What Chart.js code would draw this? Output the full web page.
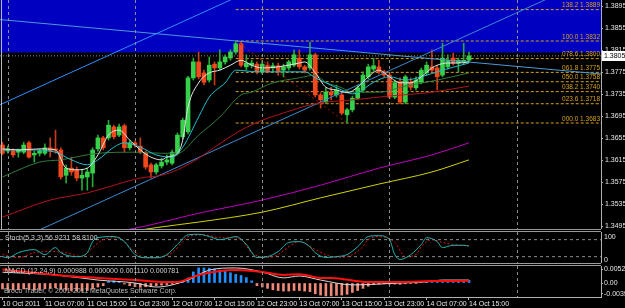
<!DOCTYPE html>
<html>
<head>
<meta charset="utf-8">
<script src="https://cdn.jsdelivr.net/npm/chart.js@4.4.1/dist/chart.umd.min.js"></script>
<style>
  html, body { margin: 0; padding: 0; background: #000; }
  #wrap { position: relative; width: 625px; height: 308px; background: #000; overflow: hidden; }
  #wrap canvas { position: absolute; left: 0; }
  .sep { position: absolute; left: 0; width: 601px; height: 1px; background: #9a9a9a; }
  .note { position: absolute; font: 7px "Liberation Sans", Arial, sans-serif; color: #d0d0d0; white-space: nowrap; }
</style>
</head>
<body>
<div id="wrap">
  <canvas id="priceChart" width="625" height="229" style="top:0"></canvas>
  <div style="position:absolute;left:1px;top:0;width:1px;height:229px;background:#b8b8b8"></div>
  <div class="sep" style="top:229px"></div>
  <div class="sep" style="top:231px"></div>
  <canvas id="stochChart" width="625" height="31" style="top:232px"></canvas>
  <div class="sep" style="top:263px"></div>
  <div class="sep" style="top:265px"></div>
  <canvas id="macdChart" width="625" height="42" style="top:266px"></canvas>
  <div class="note" style="left:5px;top:234px">Stoch(5,3,3) 56.9231 58.8100</div>
  <div class="note" style="left:5px;top:267px">MACD (12,24,9) 0.000988 0.000000 0.001110 0.000781</div>
  <div class="note" style="left:4px;top:287px;color:#bdbdbd">Broco Trader, © 2001-2011 MetaQuotes Software Corp.</div>
</div>
<script>
Chart.defaults.font.family = '"Liberation Sans", Arial, sans-serif';
Chart.defaults.font.size = 7;
Chart.defaults.color = '#e6e6e6';

// H1 bars, bar 0 = 10 Oct 23:00
var timeIdx = [0, 8, 16, 24, 32, 40, 48, 56, 64, 72, 80, 88];
var timeLabels = ['10 Oct 2011', '11 Oct 07:00', '11 Oct 15:00', '11 Oct 23:00', '12 Oct 07:00', '12 Oct 15:00',
                  '12 Oct 23:00', '13 Oct 07:00', '13 Oct 15:00', '13 Oct 23:00', '14 Oct 07:00', '14 Oct 15:00'];
var dayIdx = [1, 25, 49, 73, 97];
var viewFrom = -0.47, viewTo = 112.9;

var open = [1.3643,1.3632,1.3632,1.3630,1.3630,1.3647,1.3625,1.3628,1.3628,1.3638,
            1.3636,1.3634,1.3588,1.3601,1.3598,1.3583,1.3585,1.3592,1.3636,1.3656,
            1.3656,1.3676,1.3661,1.3678,1.3638,1.3647,1.3641,1.3628,1.3607,1.3594,
            1.3605,1.3612,1.3610,1.3628,1.3658,1.3667,1.3765,1.3794,1.3774,1.3761,
            1.3790,1.3783,1.3794,1.3801,1.3812,1.3827,1.3785,1.3788,1.3790,1.3776,
            1.3788,1.3783,1.3787,1.3779,1.3783,1.3788,1.3801,1.3785,1.3783,1.3807,
            1.3734,1.3721,1.3739,1.3734,1.3734,1.3698,1.3707,1.3728,1.3743,1.3767,
            1.3781,1.3785,1.3776,1.3770,1.3730,1.3757,1.3721,1.3757,1.3747,1.3757,
            1.3774,1.3785,1.3783,1.3770,1.3785,1.3801,1.3792,1.3794,1.3797];
var high = [1.3648,1.3641,1.3636,1.3636,1.3648,1.3650,1.3632,1.3636,1.3645,1.3656,
            1.3670,1.3638,1.3607,1.3621,1.3603,1.3598,1.3601,1.3638,1.3661,1.3659,
            1.3688,1.3679,1.3681,1.3681,1.3652,1.3650,1.3656,1.3632,1.3610,1.3610,
            1.3619,1.3625,1.3634,1.3665,1.3692,1.3768,1.3801,1.3812,1.3779,1.3803,
            1.3794,1.3816,1.3807,1.3816,1.3832,1.3831,1.3807,1.3797,1.3794,1.3797,
            1.3794,1.3792,1.3792,1.3790,1.3797,1.3816,1.3816,1.3788,1.3830,1.3810,
            1.3738,1.3747,1.3748,1.3752,1.3738,1.3710,1.3732,1.3752,1.3776,1.3790,
            1.3801,1.3797,1.3779,1.3774,1.3761,1.3765,1.3770,1.3765,1.3767,1.3783,
            1.3794,1.3816,1.3787,1.3828,1.3807,1.3810,1.3801,1.3828,1.3812];
var low =  [1.3625,1.3628,1.3621,1.3621,1.3627,1.3619,1.3612,1.3623,1.3625,1.3621,
            1.3628,1.3581,1.3574,1.3588,1.3578,1.3561,1.3561,1.3567,1.3632,1.3634,
            1.3652,1.3654,1.3658,1.3630,1.3634,1.3639,1.3627,1.3599,1.3583,1.3590,
            1.3601,1.3607,1.3607,1.3625,1.3654,1.3663,1.3761,1.3763,1.3752,1.3757,
            1.3752,1.3779,1.3790,1.3797,1.3808,1.3785,1.3779,1.3783,1.3772,1.3772,
            1.3774,1.3776,1.3770,1.3767,1.3779,1.3785,1.3781,1.3774,1.3779,1.3730,
            1.3710,1.3718,1.3725,1.3730,1.3698,1.3683,1.3703,1.3725,1.3739,1.3763,
            1.3777,1.3772,1.3767,1.3727,1.3727,1.3718,1.3718,1.3743,1.3743,1.3754,
            1.3770,1.3776,1.3743,1.3767,1.3781,1.3788,1.3776,1.3790,1.3794];
var close = [1.3628,1.3636,1.3625,1.3634,1.3643,1.3621,1.3628,1.3632,1.3638,1.3632,
            1.3634,1.3585,1.3601,1.3594,1.3583,1.3588,1.3594,1.3634,1.3656,1.3638,
            1.3679,1.3658,1.3676,1.3638,1.3647,1.3643,1.3630,1.3603,1.3594,1.3607,
            1.3612,1.3616,1.3630,1.3661,1.3688,1.3765,1.3794,1.3767,1.3757,1.3788,
            1.3783,1.3794,1.3803,1.3812,1.3827,1.3788,1.3792,1.3792,1.3776,1.3790,
            1.3776,1.3787,1.3776,1.3785,1.3794,1.3807,1.3785,1.3779,1.3807,1.3734,
            1.3725,1.3739,1.3734,1.3743,1.3701,1.3707,1.3728,1.3747,1.3770,1.3785,
            1.3787,1.3776,1.3770,1.3730,1.3756,1.3721,1.3767,1.3748,1.3761,1.3779,
            1.3788,1.3779,1.3767,1.3801,1.3797,1.3792,1.3797,1.3797,1.3805];

// moving averages (bar index, price)
var whiteIdx = [0,3,7,10,12,14,16,18,20,22,24,26,28,30,31,33,34,35,37,39,41,43,45,47,49,52,56,57,59,61,63,65,67,69,71,73,75,77,79,81,82,84,86,88];
var whiteMA = [1.3636,1.3634,1.3636,1.3634,1.3601,1.3598,1.3601,1.3625,1.3661,1.3670,1.3652,1.3634,1.3621,1.3616,1.3621,1.3628,1.3652,1.3712,1.3756,1.3774,
               1.3779,1.3788,1.3797,1.3788,1.3783,1.3785,1.3792,1.3794,1.3774,1.3748,1.3743,1.3738,1.3748,1.3767,1.3779,1.3767,1.3756,1.3756,1.3767,1.3783,
               1.3788,1.3792,1.3792,1.3794];
var cyanIdx = [0,5,10,13,16,18,21,23,26,29,32,34,37,39,42,44,48,52,57,59,61,64,66,67,70,73,76,79,83,88];
var cyanMA = [1.3634,1.3634,1.3630,1.3616,1.3607,1.3616,1.3639,1.3647,1.3639,1.3625,1.3621,1.3639,1.3694,1.3730,1.3756,1.3779,1.3776,1.3776,1.3776,1.3765,
              1.3756,1.3743,1.3736,1.3738,1.3757,1.3767,1.3761,1.3767,1.3779,1.3792];
var greenIdx = [0,7,11,18,25,30,33,37,41,45,47,51,56,59,61,64,66,71,76,82,88];
var greenMA = [1.3585,1.3612,1.3616,1.3628,1.3630,1.3628,1.3628,1.3661,1.3694,1.3734,1.3739,1.3756,1.3765,1.3770,1.3757,1.3747,1.3739,1.3739,1.3750,1.3761,1.3774];
var redIdx = [0,9,16,20,26,30,33,37,40,45,49,52,59,66,73,81,88];
var redMA = [1.3512,1.3543,1.3556,1.3567,1.3583,1.3588,1.3598,1.3619,1.3639,1.3670,1.3688,1.3698,1.3718,1.3725,1.3732,1.3739,1.3750];
var magIdx = [18,24,37,49,60,71,81,88];
var magMA = [1.3483,1.3490,1.3519,1.3543,1.3570,1.3601,1.3625,1.3647];
var yelIdx = [23,25,33,37,49,60,71,81,88];
var yelMA = [1.3483,1.3487,1.3498,1.3503,1.3521,1.3547,1.3572,1.3594,1.3616];

// objects
var priceTicks = [1.3895,1.3855,1.3815,1.3775,1.3735,1.3695,1.3655,1.3615,1.3575,1.3535,1.3495];
var priceMin = 1.34904, priceMax = 1.39065;
var fibLevels = [138.2, 100.0, 78.6, 61.8, 50.0, 38.2, 23.6, 0.0];
var fibPrices = [1.3889, 1.3832, 1.3800, 1.3775, 1.3758, 1.3740, 1.3718, 1.3683];
var fibFrom = 44;
var fibAnchor = [[44, 1.3832], [65, 1.3683]];
var rectLow = 1.3811;
var bid = 1.3805;
var chUpper = [[-0.5, 1.3716], [43.1, 1.3907]];
var chLower = [[-0.5, 1.3456], [102.4, 1.3907]];
var trDown = [[-0.5, 1.3871], [112.9, 1.3772]];

// stochastic (bar index, value)
var stochIdx = [0,1,3,6,8,10,11,14,16,17,18,21,23,25,27,29,31,33,35,37,39,41,43,44,46,48,50,52,54,56,58,59,61,63,65,67,69,71,73,74,75,77,79,80,82,83,85,87,88];
var stochMain = [20,16,34,45,27,52,34,20,34,73,87,91,73,27,16,16,27,63,97,99,91,80,87,91,63,17,20,38,70,73,55,34,17,20,27,55,91,94,80,27,10,27,63,87,73,52,60,60,57];
var signalIdx = [0,3,6,9,12,15,17,19,22,24,27,29,32,34,35,38,41,43,45,47,50,52,54,56,59,61,63,66,68,69,71,74,76,78,79,81,83,85,88];
var stochSignal = [27,16,34,38,34,20,52,80,87,52,16,16,34,73,91,97,87,87,80,34,17,27,55,73,45,27,17,27,55,80,91,70,20,27,55,80,70,63,59];
var stochLevels = [80, 20];
var stochAxis = [100, 0];

// MACD
var hist = [-.0022,-.0024,-.0026,-.0025,-.0022,-.0024,-.0026,-.0024,-.0021,-.0020,
            -.0018,-.0024,-.0027,-.0028,-.0030,-.0030,-.0028,-.0022,-.0015,-.0010,
             .0006, .0008, .0006,-.0004,-.0010,-.0014,-.0016,-.0014,-.0012,-.0010,
            -.0008,-.0006,-.0004,-.0002, .0008, .0019, .0041, .0056, .0056, .0055,
             .0052, .0048, .0043, .0038, .0032, .0028, .0020, .0008,-.0010,-.0015,
            -.0020,-.0025,-.0028,-.0030,-.0030,-.0028,-.0028,-.0030,-.0032,-.0040,
            -.0045,-.0048,-.0048,-.0046,-.0045,-.0042,-.0035,-.0028,-.0020,-.0012,
            -.0006,-.0004,-.0003,-.0004,-.0004,-.0005,-.0003,-.0002,-.0001, .0002,
             .0004, .0005, .0005, .0007, .0008, .0009, .0009, .0010, .0010];
var macdIdx = [0,10,18,25,29,35,39,44,49,53,56,60,66,75,80,83,88];
var macdMain = [.0040,.0030,.0011,.0000,-.0015,.0011,.0048,.0056,.0041,.0019,.0026,.0011,-.0007,.0000,.0004,.0011,.0011];
var sigIdx = [0,5,12,18,25,30,33,37,44,49,53,56,60,62,69,75,81,88];
var macdSignal = [.0050,.0040,.0026,.0019,.0011,.0004,.0004,.0030,.0048,.0041,.0030,.0033,.0019,.0019,.0004,.0004,.0007,.0008];
var macdTicks = [0.005204, 0, -0.003993];
var macdTickText = ['0.005204', '0.00', '-0.003993'];

var BULL = '#36d04a', BEAR = '#f2481c';
var FIB = '#d9a21b';

function pts(idx, vals) { return idx.map(function (x, k) { return { x: x, y: vals[k] }; }); }
function seg(p) { return [{ x: p[0][0], y: p[0][1] }, { x: p[1][0], y: p[1][1] }]; }
function line(data, color, extra) {
    return Object.assign({ type: 'line', data: data, borderColor: color, borderWidth: 1, pointRadius: 0,
                           fill: false, order: 1 }, extra || {});
}
function rightAxis(extra) {
    return Object.assign({
        position: 'right',
        afterFit: function (s) { s.width = 24; s.paddingTop = 0; s.paddingBottom = 0; },
        grid: { drawOnChartArea: false, tickLength: 2, color: '#b0b0b0' },
        border: { color: '#b0b0b0' }
    }, extra);
}
var hiddenX = { type: 'linear', min: viewFrom, max: viewTo, display: false, offset: false };

var daySep = {
    id: 'daySep',
    afterDatasetsDraw: function (c) {
        var ctx = c.ctx, a = c.chartArea, x = c.scales.x;
        ctx.save();
        ctx.strokeStyle = '#8c8c8c';
        ctx.lineWidth = 1;
        ctx.setLineDash([3, 3]);
        dayIdx.forEach(function (d) {
            var px = Math.round(x.getPixelForValue(d)) + 0.5;
            ctx.beginPath(); ctx.moveTo(px, a.top); ctx.lineTo(px, a.bottom); ctx.stroke();
        });
        ctx.restore();
    }
};

var priceNotes = {
    id: 'priceNotes',
    afterDatasetsDraw: function (c) {
        var ctx = c.ctx, a = c.chartArea, y = c.scales.y;
        ctx.save();
        ctx.font = '6.5px "Liberation Sans", Arial, sans-serif';
        ctx.fillStyle = FIB;
        ctx.textAlign = 'right';
        ctx.textBaseline = 'bottom';
        fibLevels.forEach(function (l, k) {
            ctx.fillText(l.toFixed(1).padStart(5, '0') + ' ' + fibPrices[k].toFixed(4), a.right - 1, y.getPixelForValue(fibPrices[k]) - 1);
        });
        var py = Math.round(y.getPixelForValue(bid));
        ctx.fillStyle = '#ffffff';
        ctx.fillRect(a.right + 1, py - 5, 24, 10);
        ctx.fillStyle = '#000000';
        ctx.font = '7px "Liberation Sans", Arial, sans-serif';
        ctx.textAlign = 'left';
        ctx.textBaseline = 'middle';
        ctx.fillText(bid.toFixed(4), a.right + 3, py);
        ctx.restore();
    }
};

var stochNotes = {
    id: 'stochNotes',
    afterDatasetsDraw: function (c) {
        var ctx = c.ctx, a = c.chartArea, y = c.scales.y;
        ctx.save();
        ctx.fillStyle = '#e6e6e6';
        ctx.font = '7px "Liberation Sans", Arial, sans-serif';
        ctx.textAlign = 'left';
        ctx.textBaseline = 'top';
        ctx.fillText(String(stochAxis[0]), a.right + 3, y.getPixelForValue(stochAxis[0]));
        ctx.textBaseline = 'bottom';
        ctx.fillText(String(stochAxis[1]), a.right + 3, y.getPixelForValue(stochAxis[1]) + 1);
        ctx.restore();
    }
};

// main price window
var priceSets = [
    line(pts(whiteIdx, whiteMA), '#e4e4e4', { cubicInterpolationMode: 'monotone', order: 0 }),
    line(pts(cyanIdx, cyanMA), '#1cc0d0', { cubicInterpolationMode: 'monotone', order: 0 }),
    line(pts(greenIdx, greenMA), '#2f7a3c', { cubicInterpolationMode: 'monotone', order: 0 }),
    line(pts(redIdx, redMA), '#b4141e', { cubicInterpolationMode: 'monotone', order: 0 }),
    line(pts(magIdx, magMA), '#c000c0', { cubicInterpolationMode: 'monotone', order: 0 }),
    line(pts(yelIdx, yelMA), '#d2d200', { cubicInterpolationMode: 'monotone', order: 0 }),
    line(seg(chUpper), '#2f8fff', { order: 0 }),
    line(seg(chLower), '#3c8ad0', { order: 0 }),
    line(seg(trDown), '#4a9ad8', { order: 0 }),
    line(seg(fibAnchor), '#b01010', { borderDash: [2, 3], order: 0 }),
    line([{ x: viewFrom, y: bid }, { x: viewTo, y: bid }], '#808080', { borderDash: [1, 2], order: 0 }),
    {
        type: 'bar',
        data: close.map(function (c, i) { return { x: i, y: [open[i], c] }; }),
        backgroundColor: close.map(function (c, i) { return c >= open[i] ? BULL : BEAR; }),
        barThickness: 4, minBarLength: 1, grouped: false, order: 2
    },
    {
        type: 'bar',
        data: close.map(function (c, i) { return { x: i, y: [low[i], high[i]] }; }),
        backgroundColor: close.map(function (c, i) { return c >= open[i] ? '#28a838' : '#c83a18'; }),
        barThickness: 1, grouped: false, order: 3
    }
];
fibPrices.forEach(function (p) {
    priceSets.push(line([{ x: fibFrom, y: p }, { x: viewTo, y: p }], FIB, { borderDash: [3, 2], order: 4 }));
});
priceSets.push(line([{ x: viewFrom, y: rectLow }, { x: viewTo, y: rectLow }], '#0000c0',
                    { fill: 'end', backgroundColor: '#0000c0', borderWidth: 0, order: 10 }));

new Chart(document.getElementById('priceChart'), {
    type: 'bar',
    data: { datasets: priceSets },
    options: {
        responsive: false, animation: false, events: [],
        layout: { padding: 0 },
        plugins: { legend: { display: false }, tooltip: { enabled: false } },
        scales: {
            x: hiddenX,
            y: rightAxis({
                min: priceMin, max: priceMax,
                afterBuildTicks: function (s) { s.ticks = priceTicks.map(function (v) { return { value: v }; }); },
                ticks: { padding: 2, color: '#e6e6e6', callback: function (v) { return v.toFixed(4); } }
            })
        }
    },
    plugins: [daySep, priceNotes]
});

// stochastic window
var stochSets = [
    line(pts(stochIdx, stochMain), '#1fb5b0', { cubicInterpolationMode: 'monotone', order: 0 }),
    line(pts(signalIdx, stochSignal), '#e01010', { cubicInterpolationMode: 'monotone', borderDash: [2, 2], order: 0 })
];
stochLevels.forEach(function (v) {
    stochSets.push(line([{ x: viewFrom, y: v }, { x: viewTo, y: v }], '#8a8a8a', { borderDash: [3, 3], order: 2 }));
});

new Chart(document.getElementById('stochChart'), {
    type: 'line',
    data: { datasets: stochSets },
    options: {
        responsive: false, animation: false, events: [],
        layout: { padding: 0 },
        plugins: { legend: { display: false }, tooltip: { enabled: false } },
        scales: {
            x: hiddenX,
            y: rightAxis({ min: -2.5, max: 107, ticks: { display: false }, grid: { display: false } })
        }
    },
    plugins: [daySep, stochNotes]
});

// MACD window with the time axis
new Chart(document.getElementById('macdChart'), {
    type: 'bar',
    data: {
        datasets: [
            line(pts(sigIdx, macdSignal), '#ff1010', { borderWidth: 2, cubicInterpolationMode: 'monotone', order: 0 }),
            line(pts(macdIdx, macdMain), '#d8d8d8', { cubicInterpolationMode: 'monotone', order: 0 }),
            {
                type: 'bar',
                data: hist.map(function (v, i) { return { x: i, y: v }; }),
                backgroundColor: hist.map(function (v) { return v >= 0 ? '#1e90ff' : '#f08a78'; }),
                barThickness: 2, order: 2
            }
        ]
    },
    options: {
        responsive: false, animation: false, events: [],
        layout: { padding: 0 },
        plugins: { legend: { display: false }, tooltip: { enabled: false } },
        scales: {
            x: {
                type: 'linear', min: viewFrom, max: viewTo, offset: false, position: 'bottom',
                afterBuildTicks: function (s) { s.ticks = timeIdx.map(function (v) { return { value: v }; }); },
                afterFit: function (s) { s.height = 11; s.paddingLeft = 0; s.paddingRight = 0; },
                ticks: {
                    autoSkip: false, maxRotation: 0, align: 'start', padding: 0, color: '#e6e6e6',
                    callback: function (v) { return timeLabels[timeIdx.indexOf(v)]; }
                },
                grid: { drawOnChartArea: false, tickLength: 3, color: '#b0b0b0', offset: false },
                border: { color: '#b0b0b0' }
            },
            y: rightAxis({
                min: -0.0052, max: 0.00632,
                afterBuildTicks: function (s) { s.ticks = macdTicks.map(function (v) { return { value: v }; }); },
                ticks: { padding: 1, color: '#e6e6e6', callback: function (v) { return macdTickText[macdTicks.indexOf(v)]; } }
            })
        }
    },
    plugins: [daySep]
});
</script>
</body>
</html>
